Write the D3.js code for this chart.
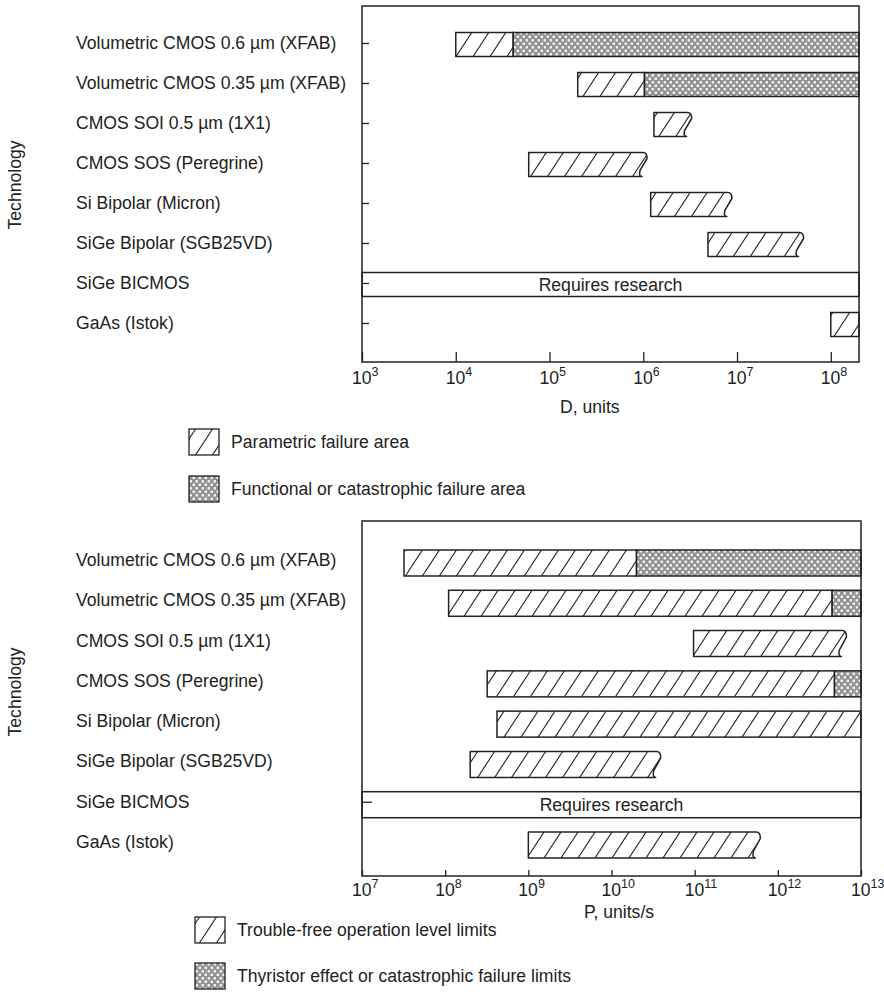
<!DOCTYPE html>
<html>
<head>
<meta charset="utf-8">
<script src="https://cdn.jsdelivr.net/npm/d3@7"></script>
<style>
  body { margin: 0; background: #fff; }
  text { font-family: "Liberation Sans", Arial, Helvetica, sans-serif; fill: #222; }
</style>
</head>
<body>
<svg id="chart" width="884" height="994"></svg>
<script>
// Technologies, listed top to bottom in both panels
const technologies = [
  "Volumetric CMOS 0.6 µm (XFAB)",
  "Volumetric CMOS 0.35 µm (XFAB)",
  "CMOS SOI 0.5 µm (1X1)",
  "CMOS SOS (Peregrine)",
  "Si Bipolar (Micron)",
  "SiGe Bipolar (SGB25VD)",
  "SiGe BICMOS",
  "GaAs (Istok)"
];
const notes = [null, null, null, null, null, null, "Requires research", null];

// Total dose D, units
const dParamStart = [1e4, 2e5, 1.3e6, 6e4, 1.2e6, 4.9e6, null, 1e8];
const dParamEnd   = [4.1e4, 1.03e6, 3.2e6, 1.07e6, 8.6e6, 5e7, null, 2e8];
const dFailEnd    = [2e8, 2e8, null, null, null, null, null, null];
const dOpenEnded  = [false, false, true, true, true, true, false, false];
const dDomain     = [1e3, 2e8];
const dTicks      = [1e3, 1e4, 1e5, 1e6, 1e7, 1e8];

// Dose rate P, units/s
const pParamStart = [3.2e7, 1.1e8, 9.7e10, 3.2e8, 4.2e8, 2e8, null, 1e9];
const pParamEnd   = [2e10, 4.5e12, 6.5e12, 4.8e12, 1e13, 3.8e10, null, 6e11];
const pFailEnd    = [1e13, 1e13, null, 1e13, null, null, null, null];
const pOpenEnded  = [false, false, true, false, false, true, false, true];
const pDomain     = [1e7, 1e13];
const pTicks      = [1e7, 1e8, 1e9, 1e10, 1e11, 1e12, 1e13];

const svg = d3.select("#chart");
const ink = "#222";
const fs = 17.6;

// Fill patterns: diagonal hatch and gray dotted grid
const defs = svg.append("defs");
const hatch = defs.append("pattern")
  .attr("id", "hatch").attr("patternUnits", "userSpaceOnUse")
  .attr("width", 17).attr("height", 26);
hatch.append("rect").attr("width", 17).attr("height", 26).attr("fill", "#fff");
[-17, 0, 17].forEach(o => hatch.append("line")
  .attr("x1", o).attr("y1", 26).attr("x2", o + 17).attr("y2", 0)
  .attr("stroke", ink).attr("stroke-width", 1.1));

const dots = defs.append("pattern")
  .attr("id", "dots").attr("patternUnits", "userSpaceOnUse")
  .attr("width", 6).attr("height", 7);
dots.append("rect").attr("width", 6).attr("height", 7).attr("fill", "#939393");
dots.append("rect").attr("x", 0.6).attr("y", 0.6).attr("width", 2.4).attr("height", 2.4).attr("fill", "#f4f4f4");
dots.append("rect").attr("x", 3.6).attr("y", 4.1).attr("width", 2.4).attr("height", 2.4).attr("fill", "#f4f4f4");

function tornPath(x0, xe, y0, h) {
  return `M${x0},${y0}H${xe - 3}Q${xe + 1},${y0} ${xe + 1},${y0 + h * 0.25}` +
         `L${xe - 6},${y0 + h * 0.74}Q${xe - 7.5},${y0 + h} ${xe - 4},${y0 + h}H${x0}Z`;
}

function drawPanel(cfg) {
  const g = svg.append("g");
  const x = d3.scaleLog().domain(cfg.domain).range([cfg.left, cfg.right]);
  const y = d3.scalePoint().domain(technologies).range(cfg.rows);

  // Category labels
  g.selectAll("text.cat").data(technologies).join("text")
    .attr("class", "cat")
    .attr("x", 76)
    .attr("y", d => y(d) + cfg.labelOff + 6)
    .attr("font-size", fs)
    .text(d => d);

  // Axis title on the left
  g.append("text")
    .attr("transform", `translate(15,${cfg.titleY}) rotate(-90)`)
    .attr("text-anchor", "middle").attr("dy", "0.35em")
    .attr("font-size", fs).text("Technology");

  // Bars
  technologies.forEach((t, i) => {
    const yc = y(t) + cfg.barOff;
    const y0 = yc - cfg.barH / 2;
    if (notes[i]) {
      g.append("rect")
        .attr("x", cfg.left).attr("y", y0)
        .attr("width", cfg.right - cfg.left).attr("height", cfg.barH)
        .attr("fill", "#fff").attr("stroke", ink).attr("stroke-width", 1.5);
      g.append("text")
        .attr("x", (cfg.left + cfg.right) / 2).attr("y", yc + 6)
        .attr("text-anchor", "middle").attr("font-size", fs)
        .text(notes[i]);
      return;
    }
    const xs = x(cfg.start[i]), xe = x(cfg.end[i]);
    if (cfg.open[i]) {
      g.append("path").attr("d", tornPath(xs, xe, y0, cfg.barH))
        .attr("fill", "url(#hatch)").attr("stroke", ink).attr("stroke-width", 1.5)
        .attr("stroke-linejoin", "round");
    } else {
      g.append("rect").attr("x", xs).attr("y", y0)
        .attr("width", xe - xs).attr("height", cfg.barH)
        .attr("fill", "url(#hatch)").attr("stroke", ink).attr("stroke-width", 1.5);
    }
    if (cfg.fail[i]) {
      const xf = x(cfg.fail[i]);
      g.append("rect").attr("x", xe).attr("y", y0)
        .attr("width", xf - xe).attr("height", cfg.barH)
        .attr("fill", "url(#dots)").attr("stroke", ink).attr("stroke-width", 1.5);
    }
  });

  // Frame
  g.append("rect")
    .attr("x", cfg.left).attr("y", cfg.top)
    .attr("width", cfg.right - cfg.left).attr("height", cfg.bottom - cfg.top)
    .attr("fill", "none").attr("stroke", ink).attr("stroke-width", 1.5);

  // Inward ticks
  const xAxis = g.append("g").attr("transform", `translate(0,${cfg.bottom})`)
    .call(d3.axisBottom(x).tickValues(cfg.ticks).tickSize(-cfg.xTickLen).tickFormat(""));
  xAxis.select(".domain").remove();
  xAxis.selectAll(".tick line").attr("stroke", ink).attr("stroke-width", 1.3);

  const yAxis = g.append("g").attr("transform", `translate(${cfg.left},${cfg.yTickOff})`)
    .call(d3.axisLeft(y).tickValues(cfg.yTickCats).tickSize(-cfg.yTickLen).tickFormat(""));
  yAxis.select(".domain").remove();
  yAxis.selectAll(".tick line").attr("stroke", ink).attr("stroke-width", 1.3);

  // Power-of-ten tick labels
  cfg.ticks.forEach(v => {
    const e = Math.round(Math.log10(v));
    const tx = g.append("text")
      .attr("x", x(v) - 10).attr("y", cfg.bottom + cfg.tickLabelGap)
      .attr("font-size", fs);
    tx.append("tspan").text("10");
    tx.append("tspan").attr("dy", -8.5).attr("font-size", 12.5).text(e);
  });

  g.append("text")
    .attr("x", cfg.unitX).attr("y", cfg.unitY)
    .attr("font-size", fs).text(cfg.unit);

  // Legend
  cfg.legend.forEach((item, k) => {
    const ly = cfg.legendY[k];
    g.append("rect")
      .attr("x", cfg.legendX).attr("y", ly - 13)
      .attr("width", 30).attr("height", 26)
      .attr("fill", item.fill).attr("stroke", ink).attr("stroke-width", 1.3);
    g.append("text")
      .attr("x", cfg.legendX + 42).attr("y", ly + 6)
      .attr("font-size", fs).text(item.label);
  });
}

drawPanel({
  domain: dDomain, ticks: dTicks, tickLabelGap: 22,
  left: 362, right: 859, top: 6, bottom: 362,
  rows: [43, 323], barOff: 1.5, barH: 24, labelOff: 0,
  start: dParamStart, end: dParamEnd, fail: dFailEnd, open: dOpenEnded,
  xTickLen: 10, yTickLen: 7, yTickOff: 0, yTickCats: technologies,
  titleY: 185, unit: "D, units", unitX: 560, unitY: 413,
  legendX: 189, legendY: [442, 489],
  legend: [
    { fill: "url(#hatch)", label: "Parametric failure area" },
    { fill: "url(#dots)", label: "Functional or catastrophic failure area" }
  ]
});

drawPanel({
  domain: pDomain, ticks: pTicks, tickLabelGap: 20,
  left: 362, right: 861, top: 521, bottom: 876,
  rows: [563, 845], barOff: 0, barH: 26, labelOff: -3,
  start: pParamStart, end: pParamEnd, fail: pFailEnd, open: pOpenEnded,
  xTickLen: 6, yTickLen: 10, yTickOff: -3, yTickCats: ["SiGe BICMOS"],
  titleY: 692, unit: "P, units/s", unitX: 584, unitY: 918,
  legendX: 195, legendY: [930, 976],
  legend: [
    { fill: "url(#hatch)", label: "Trouble-free operation level limits" },
    { fill: "url(#dots)", label: "Thyristor effect or catastrophic failure limits" }
  ]
});
</script>
</body>
</html>
